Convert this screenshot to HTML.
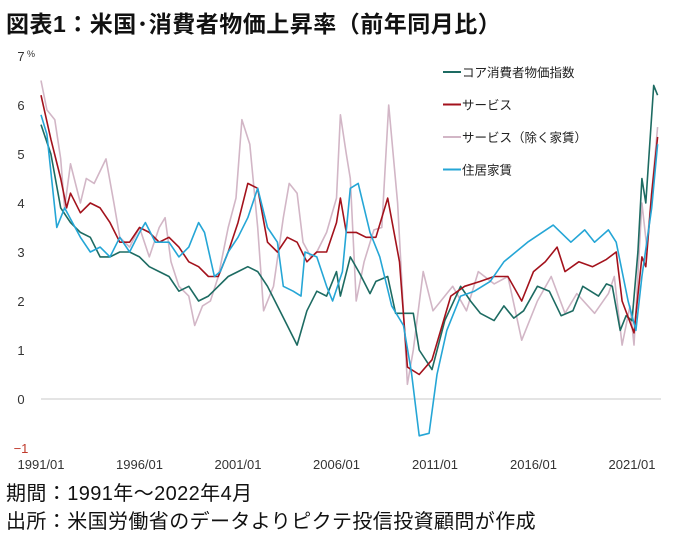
<!DOCTYPE html>
<html><head><meta charset="utf-8">
<style>
body{margin:0;background:#fff;}
#wrap{position:relative;width:691px;height:535px;overflow:hidden;font-family:"Liberation Sans","Noto Sans CJK JP",sans-serif;}
.title{position:absolute;left:6px;top:5px;font-size:23px;font-weight:bold;color:#111;white-space:nowrap;letter-spacing:0.5px;}
.foot{position:absolute;left:6px;font-size:20px;color:#111;white-space:nowrap;letter-spacing:0.4px;}
</style></head>
<body>
<div id="wrap">
<div class="title">図表1：米国･消費者物価上昇率（前年同月比）</div>
<svg id="chart" width="691" height="535" style="position:absolute;left:0;top:0"></svg>
<div class="foot" style="top:477px">期間：1991年～2022年4月</div>
<div class="foot" style="top:505px">出所：米国労働省のデータよりピクテ投信投資顧問が作成</div>
</div>
<script>
const yTicks=[7,6,5,4,3,2,1,0,-1];
const xTickYears=[1991,1996,2001,2006,2011,2016,2021];
const xTickLabels=["1991/01","1996/01","2001/01","2006/01","2011/01","2016/01","2021/01"];
const seriesNames=["コア消費者物価指数","サービス","サービス（除く家賃）","住居家賃"];

const coreYears=[1991.0,1991.5,1992.0,1992.5,1993.0,1993.5,1994.0,1994.5,1995.0,1995.5,1996.0,1996.5,1997.0,1997.5,1998.0,1998.5,1999.0,1999.5,2000.0,2000.5,2001.0,2001.5,2002.0,2002.5,2003.0,2003.5,2004.0,2004.5,2005.0,2005.5,2006.0,2006.2,2006.7,2007.2,2007.7,2008.0,2008.6,2009.0,2009.9,2010.2,2010.85,2011.5,2012.3,2012.8,2013.3,2014.0,2014.5,2015.0,2015.5,2016.2,2016.8,2017.4,2018.0,2018.5,2019.3,2019.7,2020.0,2020.4,2020.7,2021.0,2021.3,2021.5,2021.7,2022.1,2022.3];
const coreVals=[5.6,5.0,3.9,3.6,3.4,3.3,2.9,2.9,3.0,3.0,2.9,2.7,2.6,2.5,2.2,2.3,2.0,2.1,2.3,2.5,2.6,2.7,2.6,2.3,1.9,1.5,1.1,1.8,2.2,2.1,2.6,2.1,2.9,2.55,2.15,2.4,2.5,1.75,1.75,1.0,0.6,1.6,2.3,2.0,1.75,1.6,1.9,1.65,1.8,2.3,2.2,1.7,1.8,2.3,2.1,2.35,2.3,1.4,1.7,1.6,3.0,4.5,4.0,6.4,6.2];

const servYears=[1991.0,1991.5,1992.0,1992.3,1992.5,1993.0,1993.5,1994.0,1994.5,1995.0,1995.5,1996.0,1996.5,1997.0,1997.5,1998.0,1998.5,1999.0,1999.5,2000.0,2000.5,2001.0,2001.5,2002.0,2002.5,2003.0,2003.5,2004.0,2004.5,2005.0,2005.5,2006.0,2006.2,2006.5,2007.0,2007.5,2008.0,2008.6,2009.2,2009.6,2010.2,2010.85,2011.8,2012.5,2013.3,2014.0,2014.7,2015.4,2016.0,2016.6,2017.2,2017.6,2018.3,2019.0,2019.7,2020.2,2020.5,2021.1,2021.5,2021.7,2022.0,2022.3];
const servVals=[6.2,5.3,4.5,3.9,4.2,3.8,4.0,3.9,3.6,3.2,3.2,3.5,3.4,3.2,3.3,3.1,2.8,2.7,2.5,2.5,3.0,3.6,4.4,4.3,3.2,3.0,3.3,3.2,2.8,3.0,3.0,3.6,4.1,3.4,3.4,3.3,3.3,4.1,2.8,0.65,0.5,0.8,2.1,2.3,2.4,2.5,2.5,2.0,2.6,2.8,3.1,2.6,2.8,2.7,2.85,3.0,2.0,1.35,2.9,2.7,4.2,5.35];

const exYears=[1991.0,1991.3,1991.7,1992.0,1992.2,1992.5,1993.0,1993.3,1993.7,1994.3,1994.7,1995.0,1995.5,1996.0,1996.5,1997.0,1997.3,1997.6,1998.0,1998.5,1998.8,1999.2,1999.6,2000.0,2000.5,2000.9,2001.2,2001.6,2002.0,2002.3,2002.8,2003.3,2003.6,2004.0,2004.3,2004.7,2005.0,2005.5,2006.0,2006.2,2006.5,2006.7,2007.0,2007.4,2007.9,2008.3,2008.65,2009.1,2009.6,2009.9,2010.4,2010.9,2011.9,2012.6,2013.2,2014.0,2014.7,2015.4,2016.2,2016.9,2017.6,2018.2,2019.1,2019.8,2020.1,2020.5,2020.9,2021.1,2021.5,2021.75,2022.3];
const exVals=[6.5,5.9,5.7,4.9,3.9,4.8,4.0,4.5,4.4,4.9,4.0,3.3,3.1,3.5,2.9,3.5,3.7,2.8,2.3,2.1,1.5,1.9,2.0,2.5,3.5,4.1,5.7,5.2,3.5,1.8,2.3,3.7,4.4,4.2,3.2,2.9,3.0,3.4,4.1,5.8,5.0,4.5,2.0,2.8,3.45,3.5,6.0,4.0,0.3,1.0,2.6,1.8,2.3,1.8,2.6,2.35,2.5,1.2,2.0,2.5,1.75,2.15,1.75,2.15,2.5,1.1,1.9,1.1,4.0,3.1,5.55];

const rentYears=[1991.0,1991.3,1991.8,1992.2,1992.6,1993.0,1993.5,1994.0,1994.5,1995.0,1995.5,1996.0,1996.3,1996.8,1997.5,1998.0,1998.5,1999.0,1999.3,1999.8,2000.1,2000.5,2001.0,2001.5,2002.0,2002.5,2003.0,2003.3,2003.8,2004.2,2004.4,2005.0,2005.5,2005.8,2006.3,2006.7,2007.1,2007.7,2008.2,2008.8,2009.4,2009.8,2010.2,2010.7,2011.1,2011.6,2012.3,2013.0,2013.8,2014.5,2015.7,2017.0,2017.9,2018.6,2019.1,2019.8,2020.2,2020.8,2021.2,2021.5,2022.0,2022.3];
const rentVals=[5.8,5.4,3.5,3.9,3.6,3.3,3.0,3.1,2.9,3.3,3.0,3.4,3.6,3.2,3.2,2.9,3.1,3.6,3.4,2.5,2.6,3.0,3.3,3.7,4.3,3.5,3.2,2.3,2.2,2.1,3.0,2.9,2.3,2.0,2.6,4.3,4.4,3.4,2.9,1.9,1.5,0.55,-0.75,-0.7,0.5,1.4,2.1,2.2,2.4,2.8,3.2,3.55,3.2,3.45,3.2,3.45,3.2,2.0,1.4,2.5,3.9,5.2];

const colors=["#1d6b62","#a3121c","#d2b6c6","#25a6d6"];
const NS="http://www.w3.org/2000/svg";
const svg=document.getElementById('chart');
function xs(yr){return 41+(yr-1991)*19.7;}
function ys(v){return 399-v*49;}

const zl=document.createElementNS(NS,'line');
zl.setAttribute('x1',41);zl.setAttribute('x2',661);zl.setAttribute('y1',ys(0));zl.setAttribute('y2',ys(0));
zl.setAttribute('stroke','#c8c8c8');zl.setAttribute('stroke-width','1');


svg.appendChild(zl);

yTicks.forEach(function(t){
  const tx=document.createElementNS(NS,'text');
  tx.setAttribute('x',21);tx.setAttribute('y',ys(t)+5);
  tx.setAttribute('text-anchor','middle');tx.setAttribute('font-size','13');
  tx.setAttribute('font-family','Liberation Sans, sans-serif');
  tx.setAttribute('fill',t<0?'#c0392b':'#333');
  tx.textContent=t<0?'−1':String(t);
  
  
  svg.appendChild(tx);
});
const pct=document.createElementNS(NS,'text');
pct.setAttribute('x',27);pct.setAttribute('y',ys(7)+1);pct.setAttribute('font-size','9');pct.setAttribute('fill','#333');
pct.textContent='%';


svg.appendChild(pct);

xTickYears.forEach(function(yr,i){
  const tx=document.createElementNS(NS,'text');
  tx.setAttribute('x',xs(yr));tx.setAttribute('y',469);
  tx.setAttribute('text-anchor','middle');tx.setAttribute('font-size','13');
  tx.setAttribute('font-family','Liberation Sans, sans-serif');tx.setAttribute('fill','#333');
  tx.textContent=xTickLabels[i];
  
  
  svg.appendChild(tx);
});

const allYears=[coreYears,servYears,exYears,rentYears];
const allVals=[coreVals,servVals,exVals,rentVals];
const drawOrder=[2,0,1,3];
const lineNames=['core-cpi-line','services-line','services-ex-rent-line','rent-line'];
drawOrder.forEach(function(s){
  let d='';
  allYears[s].forEach(function(yr,i){d+=(i?'L':'M')+xs(yr).toFixed(1)+','+ys(allVals[s][i]).toFixed(1);});
  const p=document.createElementNS(NS,'path');
  p.setAttribute('d',d);p.setAttribute('fill','none');p.setAttribute('stroke',colors[s]);
  p.setAttribute('stroke-width','1.6');p.setAttribute('stroke-linejoin','round');
  
  
  svg.appendChild(p);
});

seriesNames.forEach(function(n,i){
  const y=72+i*32.5;
  const l=document.createElementNS(NS,'line');
  l.setAttribute('x1',443);l.setAttribute('x2',461);l.setAttribute('y1',y);l.setAttribute('y2',y);
  l.setAttribute('stroke',colors[i]);l.setAttribute('stroke-width','2');
  
  
  svg.appendChild(l);
  const t=document.createElementNS(NS,'text');
  t.setAttribute('x',462);t.setAttribute('y',y+5);t.setAttribute('font-size','12.5');
  t.setAttribute('font-family','Liberation Sans, Noto Sans CJK JP, sans-serif');t.setAttribute('fill','#222');
  t.textContent=n;
  
  
  svg.appendChild(t);
});
</script>
</body></html>
